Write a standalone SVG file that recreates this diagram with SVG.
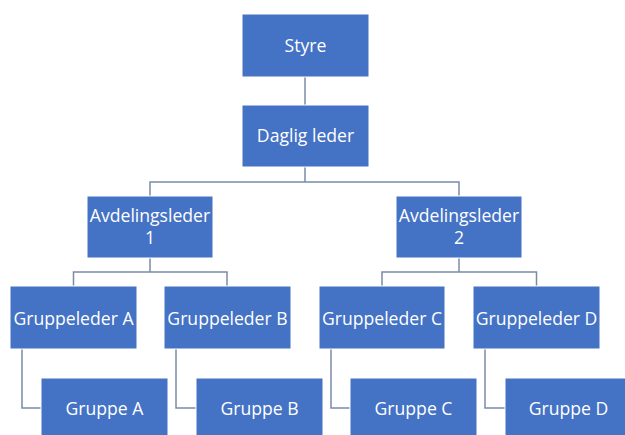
<svg xmlns="http://www.w3.org/2000/svg" width="625" height="435" viewBox="0 0 625 435">
<style>
.box{fill:#4472C4;stroke:#ffffff;stroke-width:1}
.t{fill:#ffffff;font-family:"Open Sans","Liberation Sans",sans-serif;font-size:17.6px;text-anchor:middle;dominant-baseline:central}
.c{fill:none;stroke:#7A8BA8;stroke-width:1.5}
</style>
<rect width="625" height="435" fill="#ffffff"/>
<g id="connectors">
<path class="c" d="M305 77V105"/>
<path class="c" d="M305 167V182H150V196M305 182H459V196"/>
<path class="c" d="M150 258V272H73.5V286M150 272H227V286"/>
<path class="c" d="M459 258V272H382V286M459 272H536.5V286"/>
<path class="c" d="M22 349V408H41"/>
<path class="c" d="M176 349V408H196"/>
<path class="c" d="M331 349V408H350"/>
<path class="c" d="M485 349V408H505"/>
</g>
<g id="styre"><rect class="box" x="242" y="14" width="127" height="63"/><text class="t" x="305.5" y="45">Styre</text></g>
<g id="daglig-leder"><rect class="box" x="242" y="105" width="127" height="62"/><text class="t" x="305.5" y="135">Daglig leder</text></g>
<g id="avd1"><rect class="box" x="87" y="196" width="126" height="62"/><text class="t" x="150" y="215">Avdelingsleder</text><text class="t" x="150" y="237">1</text></g>
<g id="avd2"><rect class="box" x="396" y="196" width="126" height="62"/><text class="t" x="459" y="215">Avdelingsleder</text><text class="t" x="459" y="237">2</text></g>
<g id="gl-a"><rect class="box" x="10" y="286" width="127" height="63"/><text class="t" x="73.5" y="318">Gruppeleder A</text></g>
<g id="gl-b"><rect class="box" x="164" y="286" width="127" height="63"/><text class="t" x="227.5" y="318">Gruppeleder B</text></g>
<g id="gl-c"><rect class="box" x="319" y="286" width="126" height="63"/><text class="t" x="382" y="318">Gruppeleder C</text></g>
<g id="gl-d"><rect class="box" x="473" y="286" width="127" height="63"/><text class="t" x="536.5" y="318">Gruppeleder D</text></g>
<g id="g-a"><rect class="box" x="41" y="378" width="127" height="63"/><text class="t" x="104.5" y="408">Gruppe A</text></g>
<g id="g-b"><rect class="box" x="196" y="378" width="127" height="63"/><text class="t" x="259.5" y="408">Gruppe B</text></g>
<g id="g-c"><rect class="box" x="350" y="378" width="127" height="63"/><text class="t" x="413.5" y="408">Gruppe C</text></g>
<g id="g-d"><rect class="box" x="505" y="378" width="127" height="63"/><text class="t" x="568.5" y="408">Gruppe D</text></g>
</svg>
